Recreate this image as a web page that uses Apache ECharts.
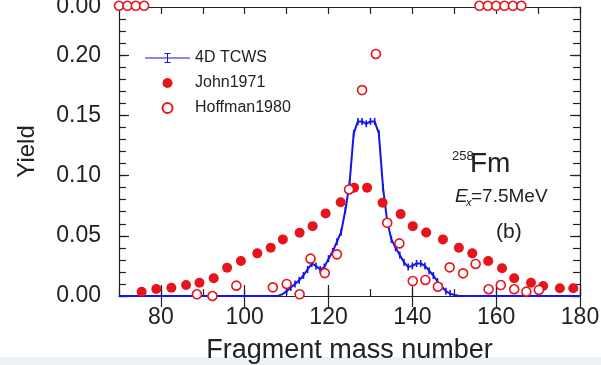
<!DOCTYPE html>
<html><head><meta charset="utf-8">
<script src="https://cdn.jsdelivr.net/npm/echarts@6/dist/echarts.min.js"></script>
<style>html,body{margin:0;padding:0;background:#fff}#c{width:601px;height:365px}</style>
</head><body><div id="c"></div>
<script>
// 4D TCWS (mass number, yield)
const tcwsMass  = [70,107,108,109,110,111,112,113,114,115,116,117,118,119,120,121,122,123,124,125,126,127,128,129,130,131,132,133,134,135,136,137,138,139,140,141,142,143,144,145,146,147,148,149,150,151,152,180];
const tcwsYield = [0,0,0.0003,0.0015,0.004,0.007,0.010,0.013,0.017,0.022,0.027,0.025,0.022,0.024,0.031,0.037,0.045,0.053,0.071,0.093,0.135,0.145,0.145,0.143,0.145,0.145,0.135,0.090,0.062,0.047,0.040,0.034,0.028,0.024,0.025,0.027,0.027,0.025,0.021,0.017,0.012,0.008,0.004,0.002,0.0008,0.0002,0,0];
// John1971
const johnMass  = [75.4,78.9,82.5,86.0,89.2,92.6,95.8,99.1,103.0,106.2,109.1,113.1,116.2,119.3,122.9,126.1,129.2,132.9,137.2,140.1,143.3,147.3,151.1,154.3,158.1,161.4,164.3,168.3,171.2,175.2,178.4];
const johnYield = [0.0036,0.0058,0.0069,0.0091,0.011,0.0147,0.0235,0.029,0.0354,0.040,0.047,0.0525,0.058,0.0686,0.0778,0.090,0.090,0.0775,0.068,0.058,0.0528,0.047,0.040,0.0354,0.029,0.023,0.0147,0.011,0.0083,0.0064,0.0064];
// Hoffman1980
const hoffMass  = [88.6,92.3,98.0,106.7,110.0,113.1,115.7,119.1,122.0,124.9,128.0,131.3,134.0,136.9,140.1,143.1,146.1,148.9,152.1,155.1,158.2,161.1,164.3,167.2,170.2];
const hoffYield = [0.0014,0.0,0.0086,0.0072,0.010,0.0014,0.031,0.019,0.0346,0.0885,0.171,0.201,0.0608,0.0437,0.0124,0.0133,0.0077,0.0238,0.0188,0.0266,0.0056,0.0091,0.0056,0.0036,0.005];
// panel (a) points near zero, visible at the top edge
const panelAMass  = [70,72,74,76,156,158,160,162,164,166];
const panelAYield = [0.001,0.001,0.001,0.001,0.001,0.001,0.001,0.001,0.001,0.001];

const xLabels = [80,100,120,140,160,180];
const yLabels = [0,0.05,0.10,0.15,0.20];

const zip = (a,b)=>a.map((v,i)=>[v,b[i]]);
const RED = '#e8141c', BLUE = '#1414ee', AX = '#222';
const FONT = 'Liberation Sans';

const chart = echarts.init(document.getElementById('c'));
const gridB = {left:119, right:21, top:7, bottom:69, outerBoundsMode:'none', containLabel:false};
const gridA = {left:119, right:21, top:-53, height:60, outerBoundsMode:'none', containLabel:false};

function xAx(gridIndex, pos, opts){
  return Object.assign({type:'value', gridIndex, position:pos, min:70, max:180, interval:10,
    axisLine:{show:true, onZero:false, lineStyle:{color:AX, width:1.2}},
    axisTick:{show:true, inside:true, length:7, lineStyle:{color:AX, width:1.2}},
    axisLabel:{show:false}, splitLine:{show:false}}, opts||{});
}
function yAx(gridIndex, pos, opts){
  return Object.assign({type:'value', gridIndex, position:pos, min:0, max:0.24, interval:0.01,
    axisLine:{show:true, onZero:false, lineStyle:{color:AX, width:1.2}},
    axisTick:{show:true, inside:true, length:7, lineStyle:{color:AX, width:1.2}},
    axisLabel:{show:false}, splitLine:{show:false}}, opts||{});
}

const tcwsIcon = 'path://M0,9L90,9L90,11L0,11Z M44,1L46,1L46,19L44,19Z M39,0L51,0L51,2L39,2Z M39,18L51,18L51,20L39,20Z';

const option = {
  animation:false,
  backgroundColor:'#fff',
  grid:[gridB, gridA],
  xAxis:[
    xAx(0,'bottom',{
      name:'Fragment mass number', nameLocation:'middle', nameGap:41,
      nameTextStyle:{fontFamily:FONT, fontSize:27, color:'#222'},
      axisLabel:{show:true, customValues:xLabels, margin:10, fontFamily:FONT, fontSize:23, color:'#222'}
    }),
    xAx(0,'top'),
    xAx(0,'bottom',{axisLine:{show:false}, axisTick:{show:true, inside:true, length:11, customValues:xLabels, lineStyle:{color:AX,width:1.2}}}),
    xAx(0,'top',{axisLine:{show:false}, axisTick:{show:true, inside:true, length:11, customValues:xLabels, lineStyle:{color:AX,width:1.2}}}),
    {type:'value', gridIndex:1, min:70, max:180, show:false}
  ],
  yAxis:[
    yAx(0,'left',{
      name:'Yield', nameLocation:'middle', nameGap:80,
      nameTextStyle:{fontFamily:FONT, fontSize:24, color:'#222'},
      axisLabel:{show:true, customValues:yLabels, margin:18, fontFamily:FONT, fontSize:23, color:'#222',
        formatter:v=>v.toFixed(2)}
    }),
    yAx(0,'right'),
    yAx(0,'left',{axisLine:{show:false}, axisTick:{show:true, inside:true, length:10, customValues:yLabels, lineStyle:{color:AX,width:1.2}}}),
    yAx(0,'right',{axisLine:{show:false}, axisTick:{show:true, inside:true, length:10, customValues:yLabels, lineStyle:{color:AX,width:1.2}}}),
    {type:'value', gridIndex:1, min:0, max:0.05, position:'left',
      axisLine:{show:false}, axisTick:{show:false}, splitLine:{show:false},
      axisLabel:{show:true, customValues:[0], margin:18, fontFamily:FONT, fontSize:23, color:'#222', formatter:v=>v.toFixed(2)}}
  ],
  legend:{
    orient:'vertical', left:140, top:45, itemWidth:45, itemHeight:10, itemGap:9,
    data:[{name:'4D TCWS', icon:tcwsIcon},'John1971','Hoffman1980'],
    textStyle:{fontFamily:FONT, fontSize:16, color:'#222'}
  },
  series:[
    {name:'panelA', type:'scatter', xAxisIndex:4, yAxisIndex:4, data:zip(panelAMass,panelAYield),
      symbol:'circle', symbolSize:9, itemStyle:{color:'#fff', borderColor:RED, borderWidth:1.6, opacity:1}, z:1},
    {name:'4D TCWS', type:'line', xAxisIndex:0, yAxisIndex:0, data:zip(tcwsMass,tcwsYield),
      symbol:'rect', symbolSize:(v)=> v[1]>0.0015 ? [1.6,7] : 0,
      lineStyle:{color:BLUE, width:2}, itemStyle:{color:BLUE}, z:3},
    {name:'John1971', type:'scatter', xAxisIndex:0, yAxisIndex:0, data:zip(johnMass,johnYield),
      symbol:'circle', symbolSize:10, itemStyle:{color:RED, opacity:1}, z:4},
    {name:'Hoffman1980', type:'scatter', xAxisIndex:0, yAxisIndex:0, data:zip(hoffMass,hoffYield),
      symbol:'circle', symbolSize:9, itemStyle:{color:'#fff', borderColor:RED, borderWidth:1.6, opacity:1}, z:5}
  ],
  graphic:[
    {type:'text', left:452, top:150, style:{text:'258', fontFamily:FONT, fontSize:13, fill:'#222'}},
    {type:'text', left:470, top:150, style:{text:'Fm', fontFamily:FONT, fontSize:28, fill:'#222'}},
    {type:'text', left:455, top:187, style:{text:'E', fontFamily:FONT, fontSize:19, fontStyle:'italic', fill:'#222'}},
    {type:'text', left:466, top:197, style:{text:'x', fontFamily:FONT, fontSize:11, fontStyle:'italic', fill:'#222'}},
    {type:'text', left:471, top:187, style:{text:'=7.5MeV', fontFamily:FONT, fontSize:19, fill:'#222'}},
    {type:'text', left:496, top:222, style:{text:'(b)', fontFamily:FONT, fontSize:21, fill:'#222'}},
    {type:'rect', left:0, top:357, shape:{width:601, height:8}, style:{fill:'#eef1f3'}, z:-1}
  ]
};
chart.setOption(option);
</script></body></html>
